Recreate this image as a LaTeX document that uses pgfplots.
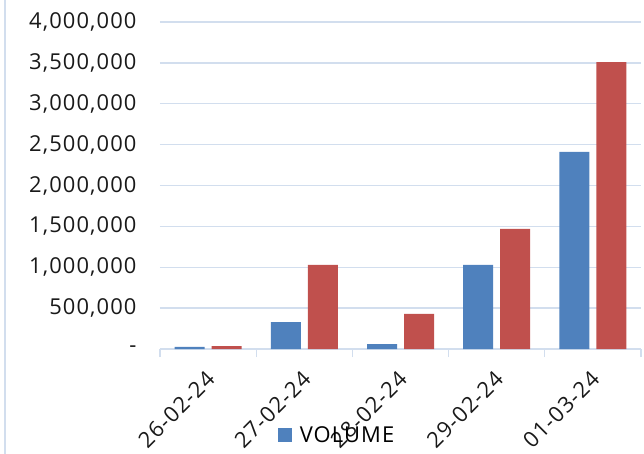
\documentclass[border=0pt]{standalone}
\usepackage{fontspec}
\setmainfont{Open Sans}[LetterSpace=5]
\usepackage{pgfplots}
\pgfplotsset{compat=1.18}
\usetikzlibrary{calc}
\definecolor{volblue}{HTML}{4F81BD}
\definecolor{volred}{HTML}{C0504D}
\definecolor{gridc}{HTML}{D2DEEE}
\begin{document}
\begin{tikzpicture}[font=\fontsize{22}{26}\selectfont]
  \begin{axis}[name=ax,
      scale only axis,
      width=481bp, height=327bp,
      ybar=7bp, bar width=30bp,
      xmin=-0.5, xmax=4.5,
      ymin=0, ymax=4000000,
      scaled y ticks=false,
      xtick={0,1,2,3,4},
      xticklabels={26-02-24,27-02-24,28-02-24,29-02-24,01-03-24},
      xticklabel style={xshift=5bp, yshift=-24bp, rotate=45, anchor=east},
      major tick length=0pt,
      extra x ticks={-0.5,0.5,1.5,2.5,3.5,4.5},
      extra x tick labels={},
      extra x tick style={grid=none, major tick length=8bp, xtick align=outside, tick style={gridc, line width=1.3bp}},
      ytick={0,500000,1000000,1500000,2000000,2500000,3000000,3500000,4000000},
      yticklabels={-,{500,000},{1,000,000},{1,500,000},{2,000,000},{2,500,000},{3,000,000},{3,500,000},{4,000,000}},
      yticklabel style={xshift=-20bp, text=black!90},
      xticklabel style={text=black!90},
      ymajorgrids, grid style={gridc, line width=1.3bp},
      axis x line*=bottom, axis y line*=left,
      x axis line style={gridc, line width=1.3bp},
      y axis line style={draw=none},
      legend style={at={(0.368,-0.263)}, anchor=center, draw=none, fill=none,
        legend columns=1, /tikz/every odd column/.append style={column sep=6bp}},
      legend image code/.code={\fill[#1] (0bp,-7bp) rectangle (14bp,7bp);},
      clip=false,
    ]
    \addplot[fill=volblue, draw=none] coordinates {
      (0,25000) (1,330000) (2,60000) (3,1030000) (4,2410000)
    };
    \addplot[fill=volred, draw=none] coordinates {
      (0,35000) (1,1030000) (2,430000) (3,1470000) (4,3510000)
    };
    \legend{VOLUME}
  \end{axis}
  \draw[gridc, line width=1.3bp] ($(ax.south west)+(-155bp,-105bp)$) -- ($(ax.north west)+(-155bp,22bp)$);
  \pgfresetboundingbox
  \path ($(ax.south west)+(-160bp,-105bp)$) rectangle ($(ax.north east)+(3bp,22bp)$);
\end{tikzpicture}
\end{document}
